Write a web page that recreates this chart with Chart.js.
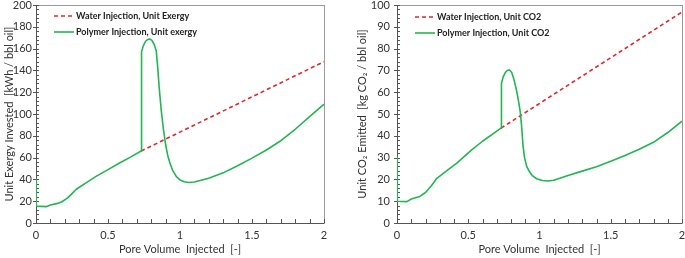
<!DOCTYPE html>
<html>
<head>
<meta charset="utf-8">
<script src="https://cdn.jsdelivr.net/npm/chart.js@4.4.0/dist/chart.umd.min.js"></script>
<style>
  html, body { margin: 0; padding: 0; background: #fff; }
  #left { position: absolute; left: 0; top: 0; }
  #right { position: absolute; left: 340px; top: 0; }
</style>
</head>
<body>
<canvas id="left" width="340" height="258"></canvas>
<canvas id="right" width="345" height="258"></canvas>
<script>
// Datos
// Izquierda: exergia unitaria
const waterExergyX = [0.73, 2.0];
const waterExergyY = [66, 148];
const polyExergyX = [0, 0.002, 0.07, 0.1, 0.15, 0.18, 0.22, 0.25, 0.28, 0.35, 0.42, 0.5, 0.58, 0.65, 0.73,
  0.731, 0.735, 0.745, 0.76, 0.775, 0.79, 0.805, 0.82, 0.835, 0.845, 0.855, 0.87, 0.885, 0.9,
  0.915, 0.93, 0.95, 0.975, 1.0, 1.03, 1.06, 1.1,
  1.2, 1.3, 1.4, 1.5, 1.6, 1.7, 1.8, 1.9, 2.0];
const polyExergyY = [40, 15.5, 15, 16.5, 18, 19.5, 23, 27, 31, 37, 43, 49, 55, 60, 66,
  150, 157, 162.5, 166.5, 168.3, 168.8, 167.5, 164, 158, 143, 125, 103, 86, 72,
  62, 55, 48, 42.5, 39.5, 37.8, 37.2, 37.6,
  41, 46, 52.5, 59.5, 67, 75.5, 86, 97.5, 109];

// Derecha: CO2 unitario
const waterCO2X = [0.73, 2.0];
const waterCO2Y = [43.5, 96.8];
const polyCO2X = [0, 0.002, 0.07, 0.1, 0.16, 0.2, 0.24, 0.28, 0.35, 0.42, 0.52, 0.6, 0.73,
  0.731, 0.735, 0.745, 0.76, 0.775, 0.79, 0.805, 0.82, 0.835, 0.85, 0.865, 0.875, 0.885, 0.895,
  0.91, 0.93, 0.95, 0.98, 1.02, 1.06, 1.1,
  1.2, 1.3, 1.4, 1.5, 1.6, 1.7, 1.8, 1.9, 2.0];
const polyCO2Y = [30, 10, 9.8, 11, 12.2, 14, 17, 20.5, 24, 27.5, 33.3, 37.5, 43.5,
  60, 64, 67, 69, 70.1, 70.2, 69, 66, 62, 57, 51, 44, 35, 30,
  26, 23.5, 21.7, 20.3, 19.5, 19.3, 19.6,
  21.8, 23.8, 25.8, 28.3, 31, 33.8, 37, 41.5, 46.7];

const xTicks = [0, 0.5, 1, 1.5, 2];

const FONT = 'Lato';
const RED = '#e0282c';
const GREEN = '#22b552';

function pts(xs, ys) {
  return xs.map((x, i) => ({ x: x, y: ys[i] }));
}

// marco, ticks y leyenda dibujados a mano
const framePlugin = {
  id: 'frame',
  beforeDatasetsDraw(chart, args, opts) {
    const ctx = chart.ctx;
    const a = chart.chartArea;
    const xs = chart.scales.x, ys = chart.scales.y;
    ctx.save();
    // marco
    ctx.strokeStyle = '#9a9a9a';
    ctx.lineWidth = 1;
    ctx.strokeRect(a.left + 0.5, a.top + 0.5, a.right - a.left, a.bottom - a.top);
    // ejes
    ctx.strokeStyle = '#555';
    ctx.beginPath();
    ctx.moveTo(a.left + 0.5, a.top);
    ctx.lineTo(a.left + 0.5, a.bottom + 0.5);
    ctx.lineTo(a.right, a.bottom + 0.5);
    ctx.stroke();
    // ticks menores x
    ctx.beginPath();
    for (let v = 0; v <= 2.0001; v += 0.1) {
      const px = Math.round(xs.getPixelForValue(v)) + 0.5;
      ctx.moveTo(px, a.bottom);
      ctx.lineTo(px, a.bottom - 4);
    }
    // ticks y
    for (let v = ys.min; v <= ys.max + 0.001; v += opts.minorY) {
      const py = Math.round(ys.getPixelForValue(v)) + 0.5;
      const major = Math.abs(v / opts.majorY - Math.round(v / opts.majorY)) < 0.001;
      ctx.moveTo(a.left - (major ? 3 : 0), py);
      ctx.lineTo(a.left + 3, py);
    }
    ctx.stroke();
    ctx.restore();
  },
  afterDatasetsDraw(chart, args, opts) {
    const ctx = chart.ctx;
    const a = chart.chartArea;
    ctx.save();
    ctx.font = 'bold 9px ' + FONT;
    ctx.textBaseline = 'middle';
    ctx.fillStyle = '#222';
    opts.legendOrder.forEach((idx, row) => {
      const ds = chart.data.datasets[idx];
      const y = a.top + opts.legendY + row * 16;
      ctx.strokeStyle = ds.borderColor;
      ctx.lineWidth = 1.6;
      ctx.setLineDash(ds.borderDash || []);
      ctx.beginPath();
      ctx.moveTo(a.left + 18, y);
      ctx.lineTo(a.left + 38, y);
      ctx.stroke();
      ctx.setLineDash([]);
      ctx.fillText(ds.label, a.left + 40, y);
    });
    ctx.restore();
  }
};

function makeChart(id, cfg) {
  return new Chart(document.getElementById(id), {
    type: 'line',
    data: {
      datasets: [{
        label: cfg.waterLabel,
        data: pts(cfg.waterX, cfg.waterY),
        borderColor: RED,
        borderWidth: 1.6,
        borderDash: [4, 3],
        pointRadius: 0,
        order: 1
      }, {
        label: cfg.polyLabel,
        data: pts(cfg.polyX, cfg.polyY),
        borderColor: GREEN,
        borderWidth: 1.6,
        pointRadius: 0,
        tension: 0,
        borderJoinStyle: 'round',
        order: 0
      }]
    },
    options: {
      responsive: false,
      animation: false,
      devicePixelRatio: 1,
      layout: { padding: { top: 5, right: cfg.padRight, left: 0, bottom: 0 } },
      plugins: {
        legend: { display: false },
        tooltip: { enabled: false },
        frame: { minorY: cfg.minorY, majorY: cfg.majorY, legendOrder: [0, 1], legendY: cfg.legendY }
      },
      scales: {
        x: {
          type: 'linear',
          min: 0,
          max: 2,
          afterBuildTicks: s => { s.ticks = xTicks.map(v => ({ value: v })); },
          ticks: { font: { family: FONT, size: 11 }, color: '#333', padding: 6, maxRotation: 0, callback: v => String(v) },
          grid: { display: false, drawTicks: false },
          border: { display: false },
          title: { display: true, text: 'Pore Volume  Injected  [-]', font: { family: FONT, size: 11 }, color: '#333', padding: { top: 0, bottom: 2 } },
          afterFit: s => { s.height = 35; s.paddingLeft = 0; s.paddingRight = 0; }
        },
        y: {
          min: 0,
          max: cfg.yMax,
          ticks: { stepSize: cfg.majorY, font: { family: FONT, size: 11 }, color: '#333', padding: cfg.yTickPad },
          grid: { display: false, drawTicks: false },
          border: { display: false },
          title: { display: true, text: cfg.yTitle, font: { family: FONT, size: 11 }, color: '#333', padding: { top: cfg.yTitlePad, bottom: 0 } },
          afterFit: s => { s.width = cfg.yWidth; s.paddingTop = 0; s.paddingBottom = 0; }
        }
      }
    },
    plugins: [framePlugin]
  });
}

makeChart('left', {
  waterLabel: 'Water Injection, Unit Exergy',
  polyLabel: 'Polymer Injection, Unit exergy',
  waterX: waterExergyX, waterY: waterExergyY,
  polyX: polyExergyX, polyY: polyExergyY,
  yMax: 200, majorY: 20, minorY: 4,
  yTitle: 'Unit Exergy Invested  [kWh / bbl oil]',
  yWidth: 36, yTickPad: 4, yTitlePad: 3, padRight: 16, legendY: 11
});

makeChart('right', {
  waterLabel: 'Water Injection, Unit CO2',
  polyLabel: 'Polymer Injection, Unit CO2',
  waterX: waterCO2X, waterY: waterCO2Y,
  polyX: polyCO2X, polyY: polyCO2Y,
  yMax: 100, majorY: 10, minorY: 2,
  yTitle: 'Unit CO\u2082 Emitted  [kg CO\u2082 / bbl oil]',
  yWidth: 57, yTickPad: 7, yTitlePad: 16, padRight: 3, legendY: 12
});
</script>
</body>
</html>
